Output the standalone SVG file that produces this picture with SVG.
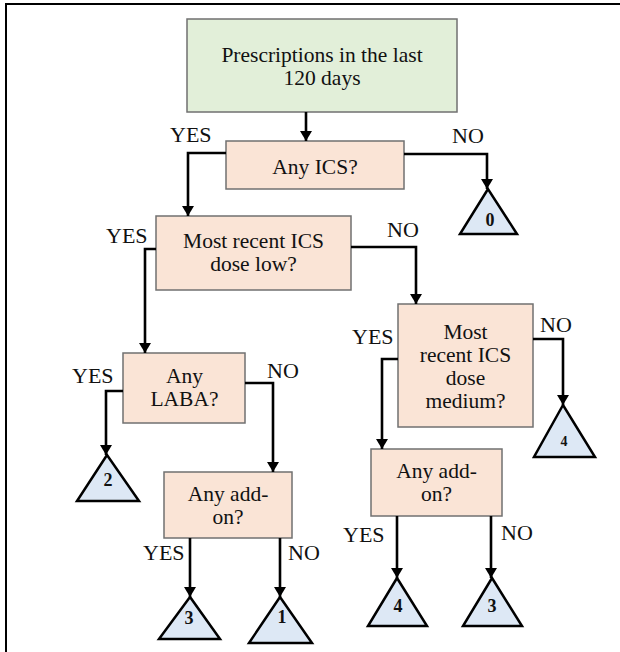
<svg xmlns="http://www.w3.org/2000/svg" width="620" height="652" viewBox="0 0 620 652">
<style>
  .box { fill: #fae4d6; stroke: #707070; stroke-width: 1.5; }
  .start { fill: #e2efd9; stroke: #707070; stroke-width: 1.5; }
  .leaf { fill: #dde8f5; stroke: #000; stroke-width: 2.5; stroke-linejoin: miter; }
  .txt { font-family: "Liberation Serif", "Times New Roman", serif; font-size: 21.5px; fill: #111; text-anchor: middle; }
  .lbl { font-family: "Liberation Serif", "Times New Roman", serif; font-size: 22px; fill: #111; }
  .num { font-family: "Liberation Serif", "Times New Roman", serif; font-size: 18px; font-weight: bold; fill: #111; text-anchor: middle; }
  .conn path { fill: none; stroke: #000; stroke-width: 2.6; marker-end: url(#arr); }
</style>
<defs>
  <marker id="arr" markerUnits="userSpaceOnUse" markerWidth="10" markerHeight="12" refX="10" refY="6" orient="auto" overflow="visible">
    <path d="M0,0 L10,6 L0,12 z" fill="#000"/>
  </marker>
</defs>
<rect width="620" height="652" fill="#fff"/>
<g id="frame">
  <line x1="6" y1="3" x2="6" y2="652" stroke="#000" stroke-width="2"/>
  <line x1="5" y1="4" x2="620" y2="4" stroke="#000" stroke-width="2"/>
</g>
<g id="start">
  <rect class="start" x="187" y="19" width="270" height="93"/>
  <text class="txt" x="322" y="62">Prescriptions in the last</text>
  <text class="txt" x="322" y="85">120 days</text>
</g>
<g id="anyICS">
  <rect class="box" x="226" y="141" width="178" height="48"/>
  <text class="txt" x="315" y="174">Any ICS?</text>
</g>
<g id="doseLow">
  <rect class="box" x="156" y="216" width="195" height="74"/>
  <text class="txt" x="253.5" y="248">Most recent ICS</text>
  <text class="txt" x="253.5" y="271">dose low?</text>
</g>
<g id="anyLABA">
  <rect class="box" x="123" y="353" width="122" height="70"/>
  <text class="txt" x="184.5" y="383">Any</text>
  <text class="txt" x="184.5" y="406">LABA?</text>
</g>
<g id="addon1">
  <rect class="box" x="164" y="472" width="128" height="66"/>
  <text class="txt" x="228" y="501">Any add-</text>
  <text class="txt" x="228" y="524">on?</text>
</g>
<g id="doseMedium">
  <rect class="box" x="398" y="304" width="135" height="123"/>
  <text class="txt" x="465.5" y="339">Most</text>
  <text class="txt" x="465.5" y="362">recent ICS</text>
  <text class="txt" x="465.5" y="385">dose</text>
  <text class="txt" x="465.5" y="408">medium?</text>
</g>
<g id="addon2">
  <rect class="box" x="371" y="449" width="131" height="67"/>
  <text class="txt" x="436.5" y="478">Any add-</text>
  <text class="txt" x="436.5" y="501">on?</text>
</g>
<g id="leaf0">
  <polygon class="leaf" points="488,189 460,234 517,234"/>
  <text class="num" x="490" y="226">0</text>
</g>
<g id="leaf2">
  <polygon class="leaf" points="107,455 77,501 139,501"/>
  <text class="num" x="108" y="486">2</text>
</g>
<g id="leaf4a">
  <polygon class="leaf" points="563,405 534,457 595,457"/>
  <text class="num" x="564" y="446" style="font-size:14px">4</text>
</g>
<g id="leaf3a">
  <polygon class="leaf" points="190,597 159,639 220,639"/>
  <text class="num" x="189" y="624">3</text>
</g>
<g id="leaf1">
  <polygon class="leaf" points="280,597 249,643 312,643"/>
  <text class="num" x="282" y="623">1</text>
</g>
<g id="leaf4b">
  <polygon class="leaf" points="397,578 368,626 427,626"/>
  <text class="num" x="398" y="612">4</text>
</g>
<g id="leaf3b">
  <polygon class="leaf" points="492,578 463,626 522,626"/>
  <text class="num" x="492" y="612">3</text>
</g>
<g id="connectors" class="conn">
  <path d="M306,112 V141"/>
  <path d="M226,153 H188 V216"/>
  <path d="M404,154 H487 V189"/>
  <path d="M156,249 H145 V353"/>
  <path d="M351,247 H416 V304"/>
  <path d="M123,391 H106 V455"/>
  <path d="M245,383 H273 V472"/>
  <path d="M190,538 V597"/>
  <path d="M280,538 V597"/>
  <path d="M398,359 H382 V449"/>
  <path d="M533,339 H563 V405"/>
  <path d="M397,516 V578"/>
  <path d="M491,516 V578"/>
</g>
<g id="labels">
  <text class="lbl" x="170" y="142">YES</text>
  <text class="lbl" x="452" y="143">NO</text>
  <text class="lbl" x="106" y="243">YES</text>
  <text class="lbl" x="387" y="237">NO</text>
  <text class="lbl" x="72" y="383">YES</text>
  <text class="lbl" x="267" y="378">NO</text>
  <text class="lbl" x="143" y="560">YES</text>
  <text class="lbl" x="288" y="560">NO</text>
  <text class="lbl" x="352" y="344">YES</text>
  <text class="lbl" x="540" y="332">NO</text>
  <text class="lbl" x="343" y="542">YES</text>
  <text class="lbl" x="501" y="540">NO</text>
</g>
</svg>
